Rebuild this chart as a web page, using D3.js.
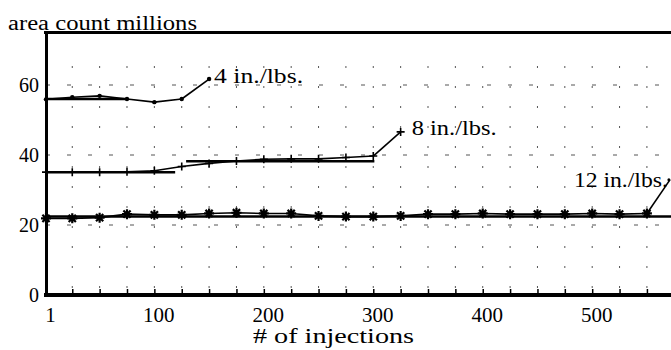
<!DOCTYPE html>
<html>
<head>
	<meta charset="utf-8">
	<title>Area count vs number of injections</title>
	<script src="https://cdn.jsdelivr.net/npm/d3@7"></script>
	<style>
		body { margin: 0; background: #fff; font-family: "Liberation Serif", "Times New Roman", serif; }
		svg, svg text, svg g { font-family: "Liberation Serif", "Times New Roman", serif; }
	</style>
</head>
<body>
	<script>
		// values
		var injections4 = [1, 25, 50, 75, 100, 125];
		var area4 = [55.9, 56.5, 56.9, 56.0, 55.1, 56.0];

		var injections8 = [1, 25, 50, 75, 100, 125, 150, 175, 200, 225, 250, 275, 300];
		var area8 = [35.1, 35.1, 35.1, 35.2, 35.5, 36.7, 37.6, 38.3, 38.8, 38.9, 38.9, 39.3, 39.7];

		var injections12 = [1, 25, 50, 75, 100, 125, 150, 175, 200, 225, 250, 275, 300, 325, 350, 375, 400, 425, 450, 475, 500, 525, 550];
		var area12 = [21.9, 21.9, 22.1, 23.1, 22.9, 22.9, 23.3, 23.5, 23.3, 23.3, 22.6, 22.4, 22.4, 22.6, 23.1, 23.1, 23.3, 23.1, 23.1, 23.1, 23.3, 23.1, 23.3];

		// straight reference segments drawn over the series
		var refStart = [1, 1, 129, 1];
		var refEnd = [75, 119, 301, 572];
		var refLevel = [56.0, 35.1, 38.2, 22.4];

		// leader lines to the series labels
		var seriesLabels = ["4 in./lbs.", "8 in./lbs.", "12 in./lbs."];
		var leaderX = [150, 325, 571];
		var leaderY = [61.7, 46.6, 32.9];

		var xTickLabels = [1, 100, 200, 300, 400, 500];
		var xMinorTicks = d3.range(25, 551, 25);
		var yTickLabels = [0, 20, 40, 60];
		var yGridLines = [20, 40, 60];

		var w = 671, h = 350;

		var svg = d3.select("body").append("svg")
			.attr("width", w)
			.attr("height", h);

		var x = d3.scaleLinear().domain([1, 572]).range([46, 671]);
		var y = d3.scaleLinear().domain([0, 75]).range([295, 32.5]);

		//dotted vertical grid
		svg.append("g").selectAll("line")
			.data(xMinorTicks)
			.enter().append("line")
			.attr("x1", function(d) { return x(d); })
			.attr("x2", function(d) { return x(d); })
			.attr("y1", y(0) - 7)
			.attr("y2", y(68))
			.attr("stroke", "#555")
			.attr("stroke-width", 1)
			.attr("stroke-dasharray", "2,18");

		//dashed horizontal grid
		svg.append("g").selectAll("line")
			.data(yGridLines)
			.enter().append("line")
			.attr("x1", x(1))
			.attr("x2", w)
			.attr("y1", function(d) { return y(d); })
			.attr("y2", function(d) { return y(d); })
			.attr("stroke", "#555")
			.attr("stroke-width", 1)
			.attr("stroke-dasharray", "4,17");

		//top frame line
		svg.append("line")
			.attr("x1", 44).attr("x2", w)
			.attr("y1", y(75)).attr("y2", y(75))
			.attr("stroke", "#000")
			.attr("stroke-width", 3);

		//bottom axis: minor ticks pointing up
		var xTicks = svg.append("g")
			.attr("transform", "translate(0," + y(0) + ")")
			.call(d3.axisBottom(x).tickValues(xMinorTicks).tickSize(-6).tickSizeOuter(0).tickFormat(""));
		xTicks.attr("font-family", null);
		xTicks.select(".domain").attr("stroke-width", 4).attr("d", "M44,0H" + w);
		xTicks.selectAll(".tick line").attr("stroke-width", 1.5);

		//bottom axis labels
		var xLab = svg.append("g")
			.attr("transform", "translate(0," + y(0) + ")")
			.call(d3.axisBottom(x).tickValues(xTickLabels).tickSize(0));
		xLab.attr("font-family", null);
		xLab.select(".domain").remove();
		xLab.selectAll("text")
			.attr("dy", null)
			.attr("y", 27)
			.attr("x", 4)
			.attr("font-size", "21px");

		//left axis
		var yAx = svg.append("g")
			.attr("transform", "translate(" + x(1) + ",0)")
			.call(d3.axisLeft(y).tickValues(yTickLabels).tickSize(0).tickPadding(7));
		yAx.attr("font-family", null);
		yAx.select(".domain").attr("stroke-width", 3);
		yAx.selectAll("text")
			.attr("font-size", "20px");

		var line = d3.line()
			.x(function(d) { return x(d[0]); })
			.y(function(d) { return y(d[1]); });

		function pairs(xs, ys) {
			return xs.map(function(v, i) { return [v, ys[i]]; });
		}

		var s4 = pairs(injections4, area4);
		var s8 = pairs(injections8, area8);
		var s12 = pairs(injections12, area12);

		//reference segments
		svg.append("g").selectAll("line")
			.data(refLevel)
			.enter().append("line")
			.attr("x1", function(d, i) { return x(refStart[i]); })
			.attr("x2", function(d, i) { return Math.min(x(refEnd[i]), w); })
			.attr("y1", function(d) { return y(d); })
			.attr("y2", function(d) { return y(d); })
			.attr("stroke", "#000")
			.attr("stroke-width", 2.5);

		//series lines
		[s4, s8, s12].forEach(function(s) {
			svg.append("path")
				.datum(s)
				.attr("d", line)
				.attr("fill", "none")
				.attr("stroke", "#000")
				.attr("stroke-width", 1.6);
		});

		//leader lines from last point to label
		var lastPts = [s4[s4.length - 1], s8[s8.length - 1], s12[s12.length - 1]];
		svg.append("g").selectAll("line")
			.data(seriesLabels)
			.enter().append("line")
			.attr("x1", function(d, i) { return x(lastPts[i][0]); })
			.attr("y1", function(d, i) { return y(lastPts[i][1]); })
			.attr("x2", function(d, i) { return x(leaderX[i]); })
			.attr("y2", function(d, i) { return y(leaderY[i]); })
			.attr("stroke", "#000")
			.attr("stroke-width", 1.6);

		//markers: dots for 4, plus signs for 8, asterisks for 12
		svg.append("g").selectAll("circle")
			.data(s4.concat([[leaderX[0], leaderY[0]]]))
			.enter().append("circle")
			.attr("cx", function(d) { return x(d[0]); })
			.attr("cy", function(d) { return y(d[1]); })
			.attr("r", 2.2)
			.attr("fill", "#000");

		var plusPath = "M-4,0H4M0,-4V4";
		svg.append("g").selectAll("path")
			.data(s8.concat([[leaderX[1], leaderY[1]]]))
			.enter().append("path")
			.attr("transform", function(d) { return "translate(" + x(d[0]) + "," + y(d[1]) + ")"; })
			.attr("d", plusPath)
			.attr("stroke", "#000")
			.attr("stroke-width", 1.6);

		var starPath = "M-5,0H5M0,-5V5M-3.6,-3.6L3.6,3.6M-3.6,3.6L3.6,-3.6";
		svg.append("g").selectAll("path")
			.data(s12)
			.enter().append("path")
			.attr("transform", function(d) { return "translate(" + x(d[0]) + "," + y(d[1]) + ")"; })
			.attr("d", starPath)
			.attr("stroke", "#000")
			.attr("stroke-width", 2.2);
		svg.append("circle")
			.attr("cx", x(leaderX[2]) - 1)
			.attr("cy", y(leaderY[2]))
			.attr("r", 1.5)
			.attr("fill", "#000");

		//series labels
		svg.append("text")
			.attr("x", x(leaderX[0]) + 5)
			.attr("y", y(leaderY[0]) + 4)
			.attr("font-size", "21px")
			.attr("textLength", 89)
			.attr("lengthAdjust", "spacingAndGlyphs")
			.text(seriesLabels[0]);
		svg.append("text")
			.attr("x", x(leaderX[1]) + 11)
			.attr("y", y(leaderY[1]) + 3)
			.attr("font-size", "21px")
			.attr("textLength", 85)
			.attr("lengthAdjust", "spacingAndGlyphs")
			.text(seriesLabels[1]);
		svg.append("text")
			.attr("x", x(leaderX[2]) - 96)
			.attr("y", y(leaderY[2]) + 7)
			.attr("font-size", "21px")
			.attr("textLength", 94)
			.attr("lengthAdjust", "spacingAndGlyphs")
			.text(seriesLabels[2]);

		//axis titles
		svg.append("text")
			.attr("x", 8)
			.attr("y", 30)
			.attr("font-size", "20px")
			.attr("textLength", 189)
			.attr("lengthAdjust", "spacingAndGlyphs")
			.text("area count millions");

		svg.append("text")
			.attr("x", 253)
			.attr("y", 343)
			.attr("font-size", "20px")
			.attr("textLength", 161)
			.attr("lengthAdjust", "spacingAndGlyphs")
			.text("# of injections");

		svg.selectAll("text").attr("fill", "#000");
	</script>
</body>
</html>
